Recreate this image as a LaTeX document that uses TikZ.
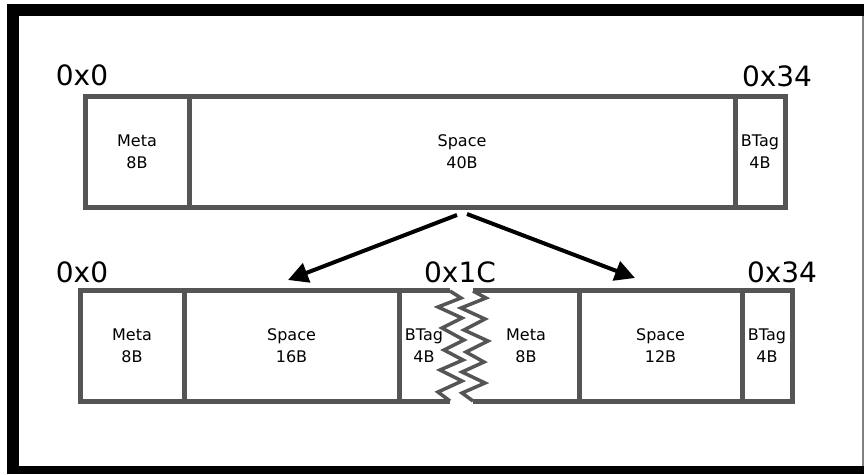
\documentclass[tikz,border=0pt]{standalone}
\usepackage{fontspec}
\setmainfont{DejaVu Sans}
\usetikzlibrary{arrows.meta,positioning,calc}
\definecolor{blockgray}{RGB}{85,85,85}

\begin{document}
\begin{tikzpicture}[x=1pt, y=-1pt,
  block/.style={draw=blockgray, line width=5pt, align=center, inner sep=0pt,
    outer sep=0pt, minimum height=111pt, font=\fontsize{16}{22}\selectfont},
  label/.style={align=center, font=\fontsize{16}{22}\selectfont},
  addr/.style={anchor=base, font=\fontsize{28}{34}\selectfont},
  torn/.style={draw=blockgray, line width=5pt},
  tear/.style={draw=blockgray, line width=3.5pt, line join=miter},
  arr/.style={-{Triangle[length=20pt,width=20pt]}, line width=4pt}
]
\useasboundingbox (0,0) rectangle (864,474);
% frame
\fill (7,4) rectangle (19,474);
\fill (7,4) rectangle (864,16);
\fill (7,466) rectangle (864,474);
\draw[gray, line width=1.5pt] (863,16) -- (863,466);

% whole block
\node[block, minimum width=104pt] (meta) at (137,151.5) {Meta\\8B};
\node[block, minimum width=546pt] (space) at (462,151.5) {Space\\40B};
\node[block, minimum width=50pt] (btag) at (760,151.5) {BTag\\4B};
\node[addr] (top0) at (82,85) {0x0};
\node[addr] (top34) at (777,86) {0x34};

% split blocks
\node[block, minimum width=104pt, minimum height=110.5pt] (metaA) at (132,346) {Meta\\8B};
\node[block, minimum width=215pt, minimum height=110.5pt] (spaceA) at (291.5,346) {Space\\16B};
\node[label] (btagA) at (424,346) {BTag\\4B};
\node[label] (metaB) at (526,346) {Meta\\8B};
\node[block, minimum width=163pt, minimum height=110.5pt] (spaceB) at (660.5,346) {Space\\12B};
\node[block, minimum width=50pt, minimum height=110.5pt] (btagB) at (767,346) {BTag\\4B};
\node[addr] (bot0) at (82,282) {0x0};
\node[addr] (bot1c) at (460,282) {0x1C};
\node[addr] (bot34) at (782,282) {0x34};

% torn edges
\draw[torn] (spaceA.north east) -- (450,290.75);
\draw[torn] (spaceA.south east) -- (450,401.25);
\draw[torn] (spaceB.north west) -- (473,290.75);
\draw[torn] (spaceB.south west) -- (473,401.25);
\draw[tear] (450,291) -- (461,298) -- (438,307) -- (462,318) -- (442,328) -- (464,340)
  -- (444,350) -- (463,360) -- (440,370) -- (462,381) -- (438,392) -- (450,401);
\draw[tear] (473,291) -- (486,298) -- (461,308) -- (485,319) -- (464,330) -- (488,341)
  -- (466,352) -- (484,362) -- (462,372) -- (485,383) -- (462,393) -- (473,401);

% split arrows
\coordinate (forkL) at (457,215);
\coordinate (forkR) at (467,214);
\coordinate (tipL) at (288,280);
\coordinate (tipR) at (635,278);
\draw[arr] (forkL) -- (tipL);
\draw[arr] (forkR) -- (tipR);
\end{tikzpicture}
\end{document}
